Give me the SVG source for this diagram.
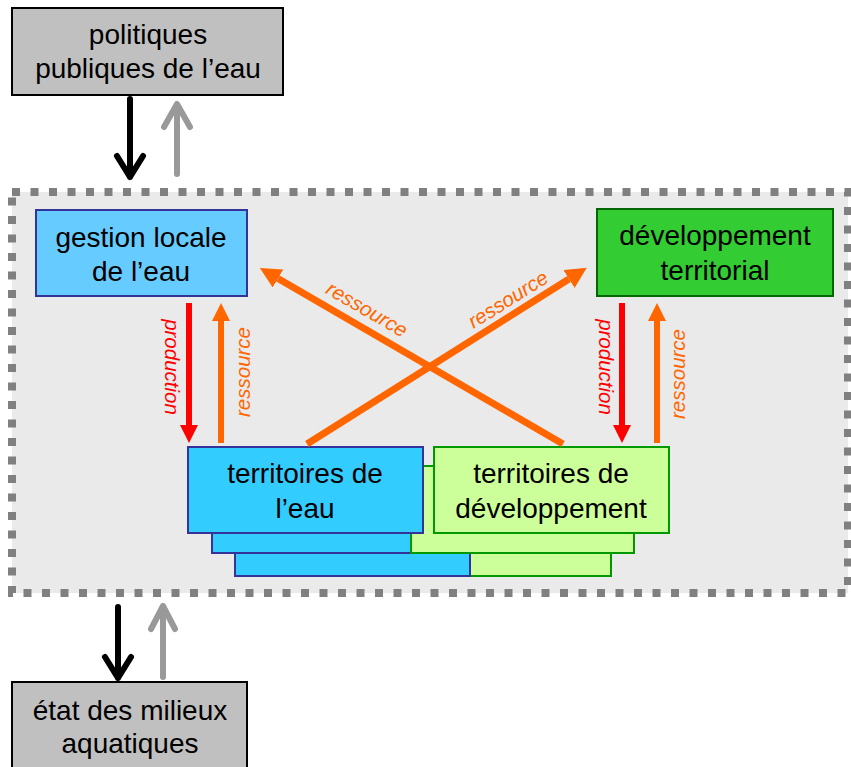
<svg xmlns="http://www.w3.org/2000/svg" width="851" height="767" viewBox="0 0 851 767">
<defs>
<style>
.t{font-family:"Liberation Sans",Arial,sans-serif;font-size:28px;fill:#000;text-anchor:middle}
.lbl{font-family:"Liberation Sans",Arial,sans-serif;font-size:20.5px;font-style:italic;text-anchor:middle}
.red{fill:#ff0000}
.org{fill:#ff6600}
.box{stroke-width:2}
.ext{fill:none;stroke-width:6;stroke-linecap:round;stroke-linejoin:round}
</style>
<marker id="hr" markerUnits="userSpaceOnUse" markerWidth="18" markerHeight="18" refX="0" refY="9" orient="auto" viewBox="0 0 18 18"><path d="M0,0 L18,9 L0,18 z" fill="#ff0000"/></marker>
<marker id="ho" markerUnits="userSpaceOnUse" markerWidth="18" markerHeight="18" refX="0" refY="9" orient="auto" viewBox="0 0 18 18"><path d="M0,0 L18,9 L0,18 z" fill="#ff6600"/></marker>
<marker id="hod" markerUnits="userSpaceOnUse" markerWidth="21" markerHeight="21" refX="0" refY="10.5" orient="auto" viewBox="0 0 21 21"><path d="M0,0 L21,10.5 L0,21 z" fill="#ff6600"/></marker>
</defs>
<rect width="851" height="767" fill="#ffffff"/>

<g id="container">
<rect x="12" y="192" width="836" height="401" fill="#eaeaea" stroke="#808080" stroke-width="8" stroke-dasharray="8 10.5"/>
</g>

<g id="politiques">
<rect class="box" x="12" y="8" width="271" height="87" fill="#c0c0c0" stroke="#000"/>
<text class="t" x="148" y="44">politiques</text>
<text class="t" x="148" y="78">publiques de l’eau</text>
</g>

<g id="etat">
<rect class="box" x="12" y="682" width="235" height="110" fill="#c0c0c0" stroke="#000"/>
<text class="t" x="130" y="720">état des milieux</text>
<text class="t" x="130" y="753">aquatiques</text>
</g>

<g id="gestion">
<rect class="box" x="36" y="210" width="211" height="86" fill="#66ccff" stroke="#333399"/>
<text class="t" x="141" y="247">gestion locale</text>
<text class="t" x="141" y="281">de l’eau</text>
</g>

<g id="developpement">
<rect class="box" x="597" y="209" width="236" height="87" fill="#33cc33" stroke="#006600"/>
<text class="t" x="715" y="245">développement</text>
<text class="t" x="715" y="280">territorial</text>
</g>

<g id="territoires">
<rect class="box" x="387" y="490" width="224" height="86" fill="#ccff99" stroke="#009900"/>
<rect class="box" x="235" y="490" width="235" height="86" fill="#33ccff" stroke="#333399"/>
<rect class="box" x="212" y="467" width="235" height="86" fill="#33ccff" stroke="#333399"/>
<rect class="box" x="411" y="466" width="223" height="87" fill="#ccff99" stroke="#009900"/>
<g id="territoires-eau">
<rect class="box" x="188" y="447" width="235" height="86" fill="#33ccff" stroke="#333399"/>
<text class="t" x="305" y="483">territoires de</text>
<text class="t" x="305" y="518">l’eau</text>
</g>
<g id="territoires-dev">
<rect class="box" x="434" y="447" width="235" height="86" fill="#ccff99" stroke="#009900"/>
<text class="t" x="551" y="483">territoires de</text>
<text class="t" x="551" y="518">développement</text>
</g>
</g>

<g id="connectors">
<path class="ext" d="M130,99 L130,177 M117,156 L130,177 L143,156" stroke="#000"/>
<path class="ext" d="M177,174 L177,105 M164,127 L177,104 L190,127" stroke="#999999"/>
<path class="ext" d="M118,607 L118,678 M105,657 L118,678 L131,657" stroke="#000"/>
<path class="ext" d="M163,677 L163,607 M151,629 L163,606 L175,629" stroke="#999999"/>

<line x1="189" y1="303" x2="189" y2="425" stroke="#ff0000" stroke-width="6" marker-end="url(#hr)"/>
<line x1="221" y1="443" x2="221" y2="321" stroke="#ff6600" stroke-width="6" marker-end="url(#ho)"/>
<line x1="622" y1="303" x2="622" y2="425" stroke="#ff0000" stroke-width="6" marker-end="url(#hr)"/>
<line x1="657" y1="443" x2="657" y2="321" stroke="#ff6600" stroke-width="6" marker-end="url(#ho)"/>

<line x1="563" y1="444" x2="278" y2="278.5" stroke="#ff6600" stroke-width="7" marker-end="url(#hod)"/>
<line x1="307" y1="444" x2="569" y2="279" stroke="#ff6600" stroke-width="7" marker-end="url(#hod)"/>

<text class="lbl red" transform="translate(170,367) rotate(90)" y="5">production</text>
<text class="lbl org" transform="translate(245,372) rotate(-90)" y="5">ressource</text>
<text class="lbl red" transform="translate(604,367) rotate(90)" y="5">production</text>
<text class="lbl org" transform="translate(680,374) rotate(-90)" y="5">ressource</text>
<text class="lbl org" transform="translate(366,311) rotate(30)" y="5">ressource</text>
<text class="lbl org" transform="translate(509,301) rotate(-32)" y="5">ressource</text>
</g>
</svg>
